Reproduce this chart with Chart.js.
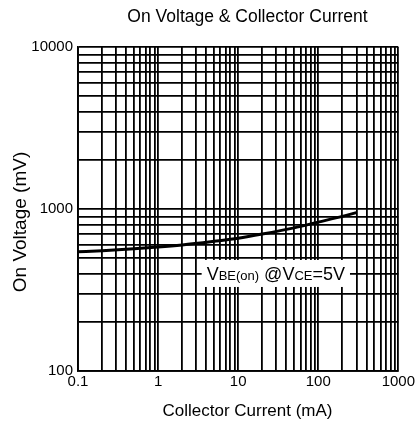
<!DOCTYPE html>
<html>
<head>
<meta charset="utf-8">
<script src="https://cdn.jsdelivr.net/npm/chart.js@4/dist/chart.umd.min.js"></script>
<style>
  html, body { margin: 0; padding: 0; background: #fff; }
  #wrap { width: 417px; height: 427px; }
</style>
</head>
<body>
<div id="wrap"><canvas id="vbeChart"></canvas></div>
<script>
// Collector current (mA) and on voltage (mV)
const currentMA = [0.1, 0.2, 0.5, 1, 2, 5, 10, 20, 50, 100, 200, 300];
const vbeOnMV = [545, 553, 568, 582, 600, 632, 660, 700, 765, 830, 900, 950];

// Labelled decades; gridlines at 1..9 of each decade
const xDecades = [0.1, 1, 10, 100, 1000];
const yDecades = [100, 1000, 10000];
const multipliers = [1, 2, 3, 4, 5, 6, 7, 8, 9];

const chartTitle = 'On Voltage & Collector Current';
const xTitle = 'Collector Current (mA)';
const yTitle = 'On Voltage (mV)';

// Where the condition label sits (data units)
const labelAt = { x: 3.5, y: 400 };

function logTicks(decades) {
    const out = [];
    decades.forEach(function(d, i) {
        if (i === decades.length - 1) { out.push(d); return; }
        multipliers.forEach(function(m) { out.push(+(d * m).toPrecision(6)); });
    });
    return out;
}

function isDecade(list, v) {
    return list.some(function(d) { return Math.abs(d - v) / d < 1e-6; });
}

const font = 'Liberation Sans, Arial, sans-serif';

// Titles: the original centres them on the area right of the y axis
const titles = {
    id: 'titles',
    afterDraw(chart) {
        const ctx = chart.ctx;
        const area = chart.chartArea;
        const cx = (area.left + chart.width) / 2;
        ctx.save();
        ctx.fillStyle = '#000';
        ctx.textAlign = 'center';
        ctx.textBaseline = 'middle';
        ctx.font = '17.5px ' + font;
        ctx.fillText(chartTitle, cx, area.top - 30);
        ctx.font = '17px ' + font;
        ctx.fillText(xTitle, cx, area.bottom + 40);
        ctx.translate(21, (area.top + area.bottom) / 2 + 13);
        ctx.rotate(-Math.PI / 2);
        ctx.font = '19px ' + font;
        ctx.fillText(yTitle, 0, 0);
        ctx.restore();
    }
};

// White box with "VBE(on) @VCE=5V" (small subscripts)
const conditionLabel = {
    id: 'conditionLabel',
    afterDatasetsDraw(chart) {
        const ctx = chart.ctx;
        const x0 = chart.scales.x.getPixelForValue(labelAt.x);
        const yc = chart.scales.y.getPixelForValue(labelAt.y);
        const parts = [
            ['V', 18], ['BE(on)', 13], [' @V', 18], ['CE', 13], ['=5V', 18]
        ];
        ctx.save();
        let w = 0;
        parts.forEach(function(p) {
            ctx.font = p[1] + 'px ' + font;
            w += ctx.measureText(p[0]).width;
        });
        ctx.fillStyle = '#fff';
        ctx.fillRect(x0, yc - 13.5, w + 10, 27);
        ctx.fillStyle = '#000';
        ctx.textBaseline = 'alphabetic';
        let x = x0 + 5;
        parts.forEach(function(p) {
            ctx.font = p[1] + 'px ' + font;
            ctx.fillText(p[0], x, yc + 7);
            x += ctx.measureText(p[0]).width;
        });
        ctx.restore();
    }
};

new Chart(document.getElementById('vbeChart'), {
    type: 'line',
    data: {
        labels: currentMA,
        datasets: [{
            label: 'VBE(on)',
            data: currentMA.map(function(c, i) { return { x: c, y: vbeOnMV[i] }; }),
            borderColor: '#000',
            borderWidth: 3,
            pointRadius: 0,
            fill: false,
            cubicInterpolationMode: 'monotone'
        }]
    },
    options: {
        responsive: true,
        maintainAspectRatio: false,
        animation: false,
        layout: { padding: { left: 0, right: 18, top: 47, bottom: 0 } },
        plugins: {
            legend: { display: false },
            tooltip: { enabled: false },
            title: { display: false }
        },
        scales: {
            x: {
                type: 'logarithmic',
                min: 0.1,
                max: 1000,
                afterBuildTicks: function(scale) {
                    scale.ticks = logTicks(xDecades).map(function(v) { return { value: v }; });
                },
                afterFit: function(scale) { scale.height = 56; },
                grid: { color: '#000', lineWidth: 1.8, drawTicks: false },
                border: { color: '#000', width: 1.8 },
                ticks: {
                    autoSkip: false,
                    maxRotation: 0,
                    padding: 2,
                    color: '#000',
                    font: { family: font, size: 15 },
                    callback: function(v) { return isDecade(xDecades, v) ? String(v) : ''; }
                }
            },
            y: {
                type: 'logarithmic',
                min: 100,
                max: 10000,
                afterBuildTicks: function(scale) {
                    scale.ticks = logTicks(yDecades).map(function(v) { return { value: v }; });
                },
                afterFit: function(scale) { scale.width = 78; },
                grid: { color: '#000', lineWidth: 1.8, drawTicks: false },
                border: { color: '#000', width: 1.8 },
                ticks: {
                    autoSkip: false,
                    padding: 5,
                    color: '#000',
                    font: { family: font, size: 15 },
                    callback: function(v) { return isDecade(yDecades, v) ? String(v) : ''; }
                }
            }
        }
    },
    plugins: [conditionLabel, titles]
});
</script>
</body>
</html>
